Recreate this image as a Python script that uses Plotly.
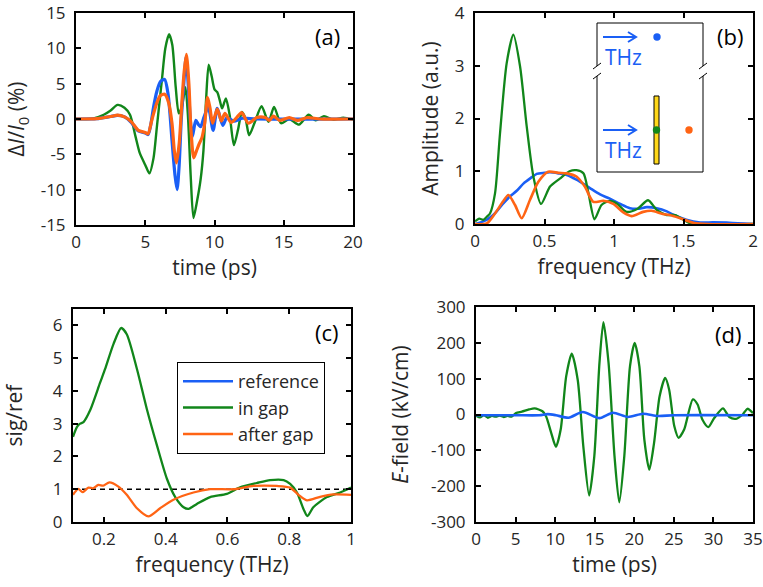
import plotly.graph_objects as go

# ---------------- data ----------------
# (a) transmission change vs time
a_t_ref = [0, 1.5, 2.5, 3.0, 3.5, 4.0, 4.5, 5.0, 5.2, 5.4, 5.6, 5.85, 6.1, 6.4, 6.65, 6.93, 7.15, 7.3, 7.45, 7.6,
           7.8, 7.95, 8.1, 8.25, 8.4, 8.65, 8.85, 9.0, 9.25, 9.55, 9.9, 10.2, 10.6, 10.9, 11.4, 12.0, 13, 20]
a_v_ref = [0, 0.05, 0.35, 0.5, 0.3, -0.5, -1.7, -2.0, -2.2, -0.8, 1.7, 4.0, 5.3, 5.6, 3.5, -3, -8, -10, -6.5, -0.1,
           5.5, 8.8, 5, 0, -2.5, -0.2, -0.8, -1.1, 0.3, 1.7, -1.6, 1.5, -0.9, 0.2, -0.3, 0.1, 0, 0]
a_t_gap = [0, 1.2, 2.0, 2.5, 3.0, 3.5, 3.9, 4.3, 4.6, 5.0, 5.3, 5.6, 5.84, 6.2, 6.45, 6.72, 6.95, 7.2, 7.42, 7.65,
           7.9, 8.08, 8.28, 8.48, 8.75, 9.0, 9.2, 9.4, 9.58, 9.8, 10.0, 10.2, 10.4, 10.55, 10.82, 11.1, 11.4, 11.7,
           11.98, 12.25, 12.5, 12.9, 13.4, 13.9, 14.3, 14.8, 15.4, 16.1, 16.8, 17.3, 17.9, 18.6, 19.3, 20]
a_v_gap = [0, 0.05, 0.6, 1.2, 2.0, 1.6, 0.6, -2.5, -4.8, -6.5, -7.7, -5.5, -1.1, 5.5, 10, 12, 10.5, 4.5, 0.8, 1.8,
           4.5, 0.5, -8, -14, -11.5, -8.5, -4.5, 3, 7.7, 6, 4.2, 3.8, 2.5, 1.5, 2.9, 0.5, -3.7, -1.5,
           1.0, 0, -2.3, -0.5, 1.8, -0.4, 1.7, -0.6, 0, -0.8, 0.6, -0.2, 0.4, -0.1, 0.2, -0.1]
a_t_after = [0, 1.5, 2.5, 3.0, 3.5, 4.0, 4.5, 5.0, 5.2, 5.48, 5.84, 6.08, 6.4, 6.69, 6.93, 7.1, 7.25, 7.45, 7.65, 7.8,
             7.97, 8.15, 8.3, 8.5, 8.7, 8.9, 9.1, 9.3, 9.5, 9.68, 9.86, 10.2, 10.5, 10.75, 11.2, 11.6, 11.96, 12.45,
             13.05, 13.65, 13.96, 14.25, 14.7, 15.4, 16.0, 16.7, 17.6, 20]
a_v_after = [0, 0.05, 0.35, 0.55, 0.3, -0.4, -1.6, -1.9, -2.1, -0.1, 2.3, 3.3, 3.5, 2.3, -0.6, -4.5, -6.2, -3.5, 2.5, 6.5,
             9.15, 5, -1.5, -5.5, -4.5, -3.5, -2.6, -0.5, 3.05, 1.5, -0.6, 1.4, -0.3, 0.8, -0.5, 0.2, 0.9, -0.6,
             0.2, 0.2, -0.2, 0.4, -0.2, 0.2, -0.2, 0.2, 0, 0]

# (b) spectral amplitude
b_f_ref = [0, 0.06, 0.108, 0.15, 0.2, 0.25, 0.3, 0.35, 0.4, 0.444, 0.5, 0.54, 0.6, 0.66, 0.73, 0.78, 0.827, 0.9, 0.97,
           1.045, 1.115, 1.18, 1.235, 1.307, 1.38, 1.43, 1.52, 1.62, 1.71, 1.83, 2.0]
b_a_ref = [0, 0.05, 0.12, 0.22, 0.38, 0.52, 0.63, 0.77, 0.87, 0.95, 0.97, 0.98, 0.96, 0.93, 0.84, 0.76, 0.68, 0.56, 0.48,
           0.38, 0.30, 0.29, 0.32, 0.3, 0.24, 0.17, 0.08, 0.03, 0.03, 0.025, 0.0]
b_f_gap = [0, 0.03, 0.06, 0.09, 0.108, 0.144, 0.18, 0.228, 0.276, 0.324, 0.372, 0.42, 0.475, 0.54, 0.61, 0.68, 0.73,
           0.78, 0.815, 0.86, 0.91, 0.97, 1.02, 1.09, 1.17, 1.245, 1.31, 1.38, 1.44, 1.5, 1.56, 2.0]
b_a_gap = [0.05, 0.1, 0.08, 0.15, 0.2, 0.58, 1.72, 3.05, 3.59, 2.99, 1.85, 0.9, 0.38, 0.71, 0.86, 1.0, 1.02,
           0.96, 0.6, 0.09, 0.36, 0.44, 0.39, 0.23, 0.29, 0.45, 0.26, 0.17, 0.17, 0.08, 0.0, 0.0]
b_f_after = [0, 0.084, 0.144, 0.2, 0.24, 0.288, 0.336, 0.396, 0.456, 0.527, 0.6, 0.66, 0.73, 0.79, 0.851, 0.923,
             0.995, 1.067, 1.127, 1.21, 1.27, 1.35, 1.4, 1.475, 1.57, 1.67, 2.0]
b_a_after = [0, 0.01, 0.2, 0.42, 0.55, 0.36, 0.11, 0.46, 0.8, 0.99, 0.97, 0.96, 0.9, 0.71, 0.42, 0.44,
             0.38, 0.22, 0.15, 0.23, 0.25, 0.19, 0.17, 0.11, 0.025, 0, 0]

# (c) ratio sig/ref
c_f_gap = [0.1, 0.113, 0.123, 0.134, 0.155, 0.188, 0.204, 0.231, 0.256, 0.274, 0.307, 0.339, 0.372, 0.404, 0.431,
           0.458, 0.474, 0.501, 0.544, 0.598, 0.641, 0.695, 0.738, 0.782, 0.803, 0.825, 0.846, 0.859, 0.878, 0.922,
           0.965, 1.0]
c_r_gap = [2.6, 2.9, 3.0, 3.05, 3.4, 4.26, 4.67, 5.43, 5.92, 5.73, 4.67, 3.45, 2.33, 1.32, 0.76,
           0.45, 0.4, 0.55, 0.76, 0.86, 1.06, 1.19, 1.28, 1.28, 1.16, 0.9, 0.4, 0.18, 0.45, 0.76,
           0.9, 1.05]
c_f_after = [0.1, 0.117, 0.131, 0.15, 0.165, 0.182, 0.198, 0.218, 0.247, 0.274, 0.307, 0.344, 0.382, 0.425, 0.49,
             0.544, 0.62, 0.684, 0.76, 0.803, 0.83, 0.857, 0.9, 0.943, 1.0]
c_r_after = [0.83, 1.01, 0.91, 1.05, 1.03, 1.13, 1.11, 1.21, 1.08, 0.83, 0.42, 0.17, 0.42, 0.68, 0.9,
             1.0, 1.0, 1.1, 1.1, 1.05, 0.83, 0.66, 0.77, 0.84, 0.83]
c_f_unity = [0.1, 1.0]
c_r_unity = [1, 1]

# (d) field vs time
d_t_gap = [0, 0.5, 1.0, 1.5, 2.0, 2.5, 3.0, 3.5, 4.0, 4.5, 5.05, 5.8, 6.7, 7.4, 8.4, 8.85, 9.5, 10.1, 10.7, 11.4,
           12.1, 12.85, 13.56, 14.3, 14.95, 15.6, 16.1, 16.75, 17.5, 18.1, 18.74, 19.46, 20.05, 20.64, 21.27, 21.9,
           22.5, 23.2, 23.9, 24.4, 25.06, 25.6, 26.3, 27.4, 28.0, 28.6, 29.35, 30.1, 31.2, 32.0, 32.85, 33.7, 34.3,
           35.0]
d_e_gap = [-3, -8, -2, -9, -4, -6, -3, -7, -4, -6, 4, 8, 14, 17, 9, -5, -51, -90, -42, 107,
           170, 97, -89, -226, -116, 144, 258, 144, -116, -245, -116, 135, 200, 135, -70, -154,
           -79, 51, 102, 70, -33, -65, -42, 42, 28, -14, -35, -10, 17, -7, -12, 0, 16,
           4]
d_t_ref = [0, 5, 8.0, 9.05, 10.1, 11.7, 13.5, 15.6, 17.3, 19.2, 21.1, 23.0, 25, 35]
d_e_ref = [-2, -2, -2, 1, -2, -9, 7, -10, 5, -7, 2, -4, -2, -2]

# tick labels
a_xticks = [0, 5, 10, 15, 20]
a_yticks = [-15, -10, -5, 0, 5, 10, 15]
b_xticks = [0, 0.5, 1, 1.5, 2]
b_yticks = [0, 1, 2, 3, 4]
c_xticks = [0.2, 0.4, 0.6, 0.8, 1]
c_yticks = [0, 1, 2, 3, 4, 5, 6]
d_xticks = [0, 5, 10, 15, 20, 25, 30, 35]
d_yticks = [-300, -200, -100, 0, 100, 200, 300]

series_names = ["reference", "in gap", "after gap"]
BLUE, GREEN, ORANGE = "#1a5ff5", "#11861a", "#ff6414"

# ---------------- layout helpers ----------------
W, H = 763, 587
FONT = "Open Sans"
TXT = "#262626"


def fx(p):
    return p / W


def fy(p):
    return 1 - p / H


def lab(v):
    return "%g" % v  # plain hyphen minus as in the original


fig = go.Figure()


def add(x, y, color, width, xa, ya):
    fig.add_trace(go.Scatter(
        x=x, y=y, mode="lines", showlegend=False,
        line=dict(color=color, width=width, shape="spline", smoothing=0.7),
        xaxis=xa, yaxis=ya, hoverinfo="skip"))


# (a)
add(a_t_gap, a_v_gap, GREEN, 2.4, "x", "y")
add(a_t_ref, a_v_ref, BLUE, 3.2, "x", "y")
add(a_t_after, a_v_after, ORANGE, 3.2, "x", "y")
# (b)
add(b_f_ref, b_a_ref, BLUE, 2.6, "x2", "y2")
add(b_f_gap, b_a_gap, GREEN, 2.3, "x2", "y2")
add(b_f_after, b_a_after, ORANGE, 2.6, "x2", "y2")
# (c)
fig.add_trace(go.Scatter(x=c_f_unity, y=c_r_unity, mode="lines", showlegend=False,
                         line=dict(color="black", width=1.5, dash="5px,4px"),
                         xaxis="x3", yaxis="y3", hoverinfo="skip"))
add(c_f_gap, c_r_gap, GREEN, 2.3, "x3", "y3")
add(c_f_after, c_r_after, ORANGE, 2.3, "x3", "y3")
# legend-only entries (shown in panel c legend)
for nm, col in zip(series_names, [BLUE, GREEN, ORANGE]):
    fig.add_trace(go.Scatter(x=[None], y=[None], mode="lines", name=nm, showlegend=True,
                             line=dict(color=col, width=2.5), xaxis="x3", yaxis="y3"))
# (d)
add(d_t_gap, d_e_gap, GREEN, 2.3, "x4", "y4")
add(d_t_ref, d_e_ref, BLUE, 2.6, "x4", "y4")


def axis(domain, rng, ticks, title, anchor, standoff, lsoff):
    return dict(domain=domain, range=rng, tickvals=ticks, ticktext=[lab(t) for t in ticks],
                showline=True, linecolor="black", linewidth=2, mirror="ticks",
                ticks="inside", ticklen=5, tickwidth=1.5, tickcolor="black",
                showgrid=False, zeroline=False, anchor=anchor, automargin=False,
                ticklabelstandoff=lsoff,
                tickfont=dict(family=FONT, size=17, color=TXT),
                title=dict(text=title, standoff=standoff, font=dict(family=FONT, size=21, color=TXT)))


XA = [fx(76), fx(353)]
XB = [fx(475), fx(753)]
XC = [fx(73), fx(351)]
XD = [fx(476), fx(753)]
YA = [fy(225), fy(13)]
YB = [fy(224), fy(13)]
YC = [fy(522), fy(309)]
YD = [fy(522), fy(307)]

fig.update_layout(
    width=W, height=H, margin=dict(l=0, r=0, t=0, b=0, autoexpand=False),
    paper_bgcolor="white", plot_bgcolor="white",
    font=dict(family=FONT, color=TXT),
    xaxis=axis(XA, [0, 20], a_xticks, "time (ps)", "y", 3, 1),
    yaxis=axis(YA, [-15, 15], a_yticks, "Δ<i>I</i>/<i>I</i><sub>0</sub> (%)", "x", 10, 5),
    xaxis2=axis(XB, [0, 2], b_xticks, "frequency (THz)", "y2", 6, 1),
    yaxis2=axis(YB, [0, 4], b_yticks, "Amplitude (a.u.)", "x2", 11, 5),
    xaxis3=axis(XC, [0.1, 1], c_xticks, "frequency (THz)", "y3", 1, 1),
    yaxis3=axis(YC, [0, 6.5], c_yticks, "sig/ref", "x3", 33, 5),
    xaxis4=axis(XD, [0, 35], d_xticks, "time (ps)", "y4", 5, 1),
    yaxis4=axis(YD, [-300, 300], d_yticks, "<i>E</i>-field (kV/cm)", "x4", 17, 5),
    legend=dict(x=fx(177), y=fy(362), xanchor="left", yanchor="top",
                bgcolor="white", bordercolor="black", borderwidth=1, itemwidth=50,
                font=dict(family=FONT, size=18, color=TXT), tracegroupgap=0),
)

# panel letters
for txt, px_, py_ in [("(a)", 327, 36), ("(b)", 730, 36), ("(c)", 327, 332), ("(d)", 728, 334)]:
    fig.add_annotation(x=fx(px_), y=fy(py_), xref="paper", yref="paper", text=txt, showarrow=False,
                       font=dict(family=FONT, size=22, color="black"), xanchor="center", yanchor="middle")

# inset schematic in (b)
shapes = []
shapes.append(dict(type="rect", xref="paper", yref="paper", x0=fx(597), x1=fx(703), y0=fy(172), y1=fy(23),
                   line=dict(color="black", width=1), fillcolor="white", layer="above"))
for ex in (597, 703):
    shapes.append(dict(type="rect", xref="paper", yref="paper", x0=fx(ex - 2), x1=fx(ex + 2), y0=fy(76), y1=fy(66),
                       line=dict(width=0), fillcolor="white", layer="above"))
    for yy in (66, 76):
        shapes.append(dict(type="line", xref="paper", yref="paper", x0=fx(ex - 4), y0=fy(yy + 3),
                           x1=fx(ex + 4), y1=fy(yy - 3), line=dict(color="black", width=1), layer="above"))
for ay in (37, 130):
    shapes.append(dict(type="line", xref="paper", yref="paper", x0=fx(603), y0=fy(ay), x1=fx(635), y1=fy(ay),
                       line=dict(color=BLUE, width=2), layer="above"))
    shapes.append(dict(type="path", xref="paper", yref="paper",
                       path="M %f,%f L %f,%f L %f,%f" % (fx(628), fy(ay - 5), fx(636), fy(ay), fx(628), fy(ay + 5)),
                       line=dict(color=BLUE, width=2), layer="above"))
shapes.append(dict(type="rect", xref="paper", yref="paper", x0=fx(654), x1=fx(659), y0=fy(164), y1=fy(96),
                   line=dict(color="black", width=1), fillcolor="#ffd81a", layer="above"))
for cx, cy, col in [(657, 37, BLUE), (656.5, 130, GREEN), (689, 130, ORANGE)]:
    shapes.append(dict(type="circle", xref="paper", yref="paper", x0=fx(cx - 3.7), x1=fx(cx + 3.7),
                       y0=fy(cy + 3.7), y1=fy(cy - 3.7), line=dict(width=0), fillcolor=col, layer="above"))
fig.update_layout(shapes=shapes)
for ty in (57, 150):
    fig.add_annotation(x=fx(623), y=fy(ty), xref="paper", yref="paper", text="THz", showarrow=False,
                       font=dict(family=FONT, size=21, color=BLUE), xanchor="center", yanchor="middle")

# remove the default 8px page margin so the figure sits at the window origin
fig.write_html("out.html", config={"displayModeBar": False},
               post_script="document.body.style.margin='0';")
